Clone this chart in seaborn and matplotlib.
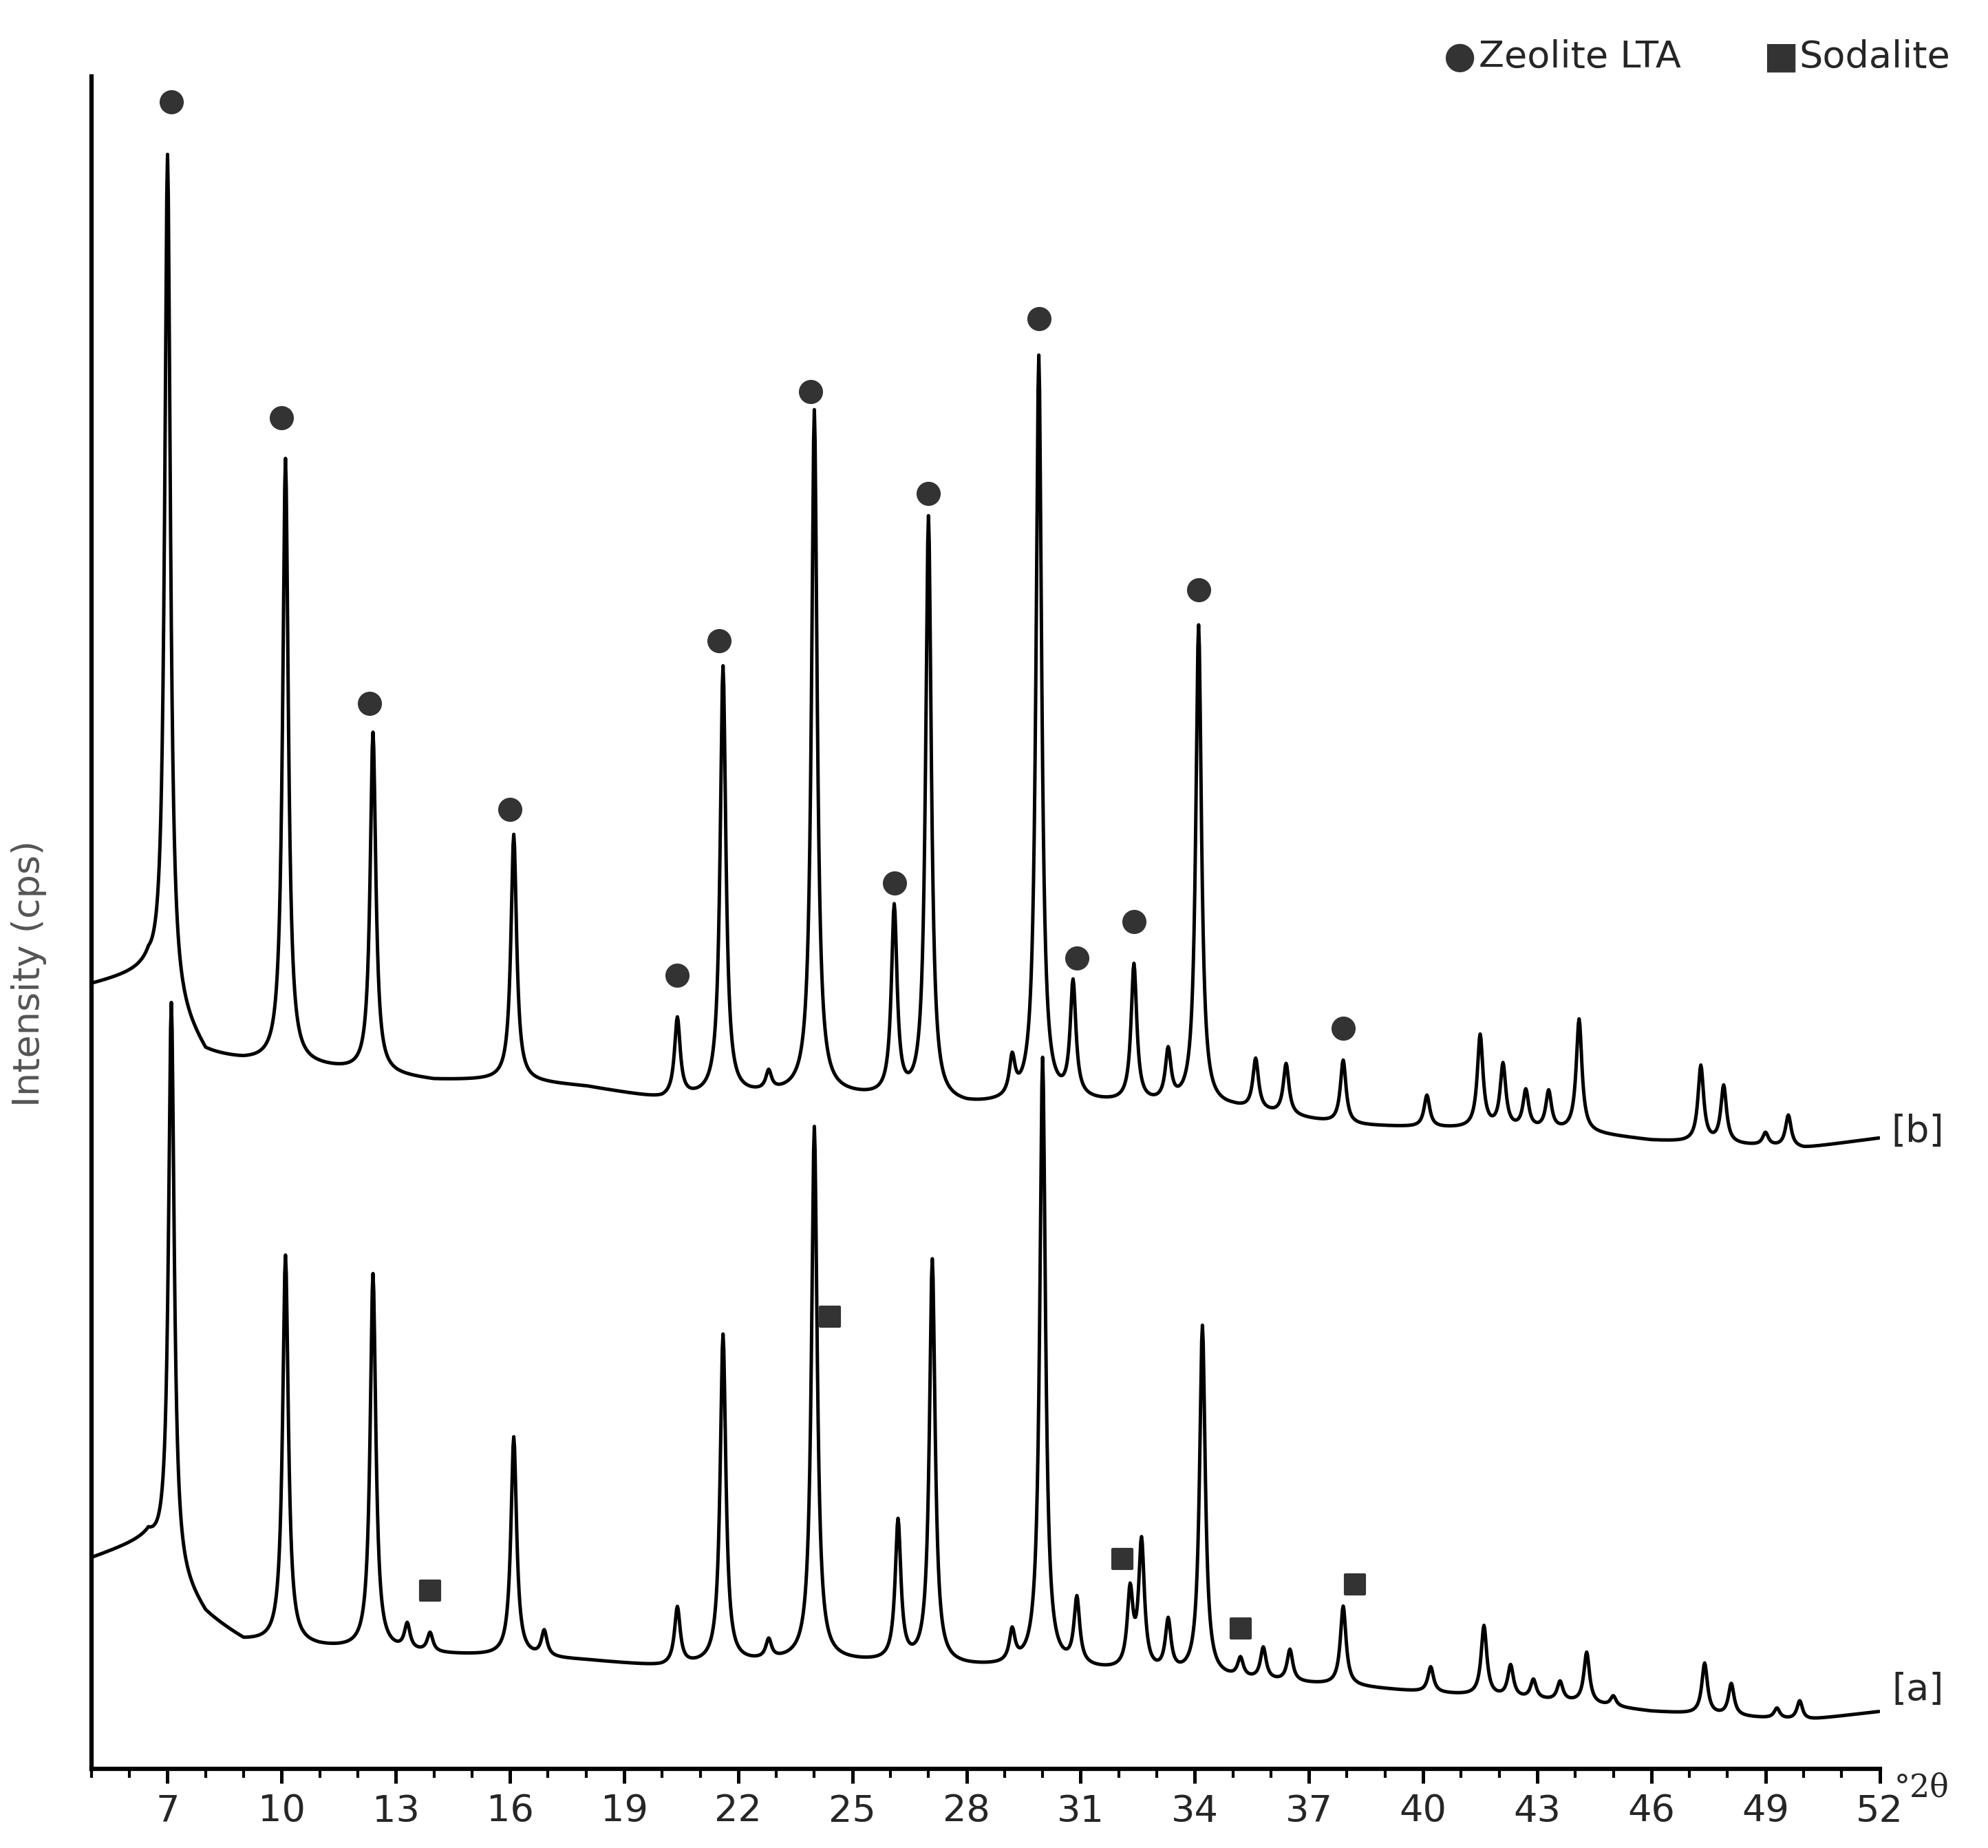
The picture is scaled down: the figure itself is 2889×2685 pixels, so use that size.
"""
XRD patterns of zeolite LTA samples [a] and [b], redrawn with seaborn.
"""

import numpy as np
import pandas as pd
import matplotlib.pyplot as plt
import seaborn as sns

sns.set_theme(style="white")
plt.rcParams['font.family'] = ['DejaVu Sans']

# peaks: position (deg 2theta), height above baseline
peaks_b_pos = [7.0, 10.1, 12.4, 16.1, 20.4, 21.6, 22.8, 24.0, 26.1, 27.0, 29.2, 29.9, 30.8,
               32.4, 33.3, 34.1, 35.6, 36.4, 37.9, 40.1, 41.5, 42.1, 42.7, 43.3, 44.1,
               47.3, 47.9, 49.0, 49.6]
peaks_b_h = [663, 475, 267, 193, 62, 337, 15, 535, 148, 458, 30, 585, 90,
             108, 40, 377, 40, 40, 50, 25, 73, 50, 30, 30, 88,
             60, 45, 10, 25]
peaks_a_pos = [7.1, 10.1, 12.4, 13.3, 13.9, 16.1, 16.9, 20.4, 21.6, 22.8, 24.0, 26.2, 27.1,
               29.2, 30.0, 30.9, 32.3, 32.6, 33.3, 34.2, 35.2, 35.8, 36.5, 37.9, 40.2,
               41.6, 42.3, 42.9, 43.6, 44.3, 45.0, 47.4, 48.1, 49.3, 49.9]
peaks_a_h = [445, 305, 295, 20, 15, 172, 20, 45, 258, 15, 418, 110, 317,
             25, 478, 52, 60, 100, 40, 275, 15, 25, 25, 62, 20,
             55, 25, 15, 15, 40, 8, 40, 25, 8, 15]

# baselines (background) read at a few angles
base_x = [5, 6.5, 8, 9, 11, 14, 16, 18, 20, 24, 28, 31, 35, 38, 40, 44, 46, 50, 52]
base_b = [615, 625, 560, 555, 550, 540, 540, 535, 525, 530, 520, 523, 518, 505, 503, 500, 493, 487, 495]
base_a = [165, 180, 120, 100, 95, 90, 88, 85, 80, 85, 80, 78, 70, 65, 60, 52, 45, 38, 45]

# phase markers: (angle, height)
lta_x = [7.1, 10.0, 12.3, 16.0, 20.4, 21.5, 23.9, 26.1, 27.0, 29.9, 30.9, 32.4, 34.1, 37.9]
lta_y = [1308, 1060, 836, 753, 623, 885, 1081, 695, 1001, 1138, 636, 665, 925, 581]
sod_x = [13.9, 24.4, 32.1, 35.2, 38.2]
sod_y = [140, 355, 165, 110, 145]

major_ticks = list(range(7, 53, 3))


def pattern(pos, heights, base):
    x = np.arange(5.0, 52.0, 0.02)
    y = np.interp(x, base_x, base)
    for p, h in zip(pos, heights):
        y = y + h / (1 + ((x - p) / 0.09) ** 2)
    return pd.DataFrame({'two_theta': x, 'intensity': y})


fig = plt.figure(figsize=(9.63, 8.95), dpi=300)
ax = fig.add_axes([0.046, 0.0428, 0.8995, 0.9158])

for pos, h, base in [(peaks_b_pos, peaks_b_h, base_b), (peaks_a_pos, peaks_a_h, base_a)]:
    sns.lineplot(data=pattern(pos, h, base), x='two_theta', y='intensity',
                 ax=ax, color='black', linewidth=1.2)

ax.scatter(lta_x, lta_y, marker='o', s=55, color='#333333', zorder=3)
ax.scatter(sod_x, sod_y, marker='s', s=45, color='#333333', zorder=3)

ax.set_xlim(5, 52)
ax.set_ylim(0, 1328)
ax.set_xticks(major_ticks)
ax.set_xticks(range(5, 53), minor=True)
ax.set_yticks([])
ax.tick_params(axis='x', which='major', direction='out', length=5, width=1.2,
               labelsize=13, bottom=True, color='black')
ax.tick_params(axis='x', which='minor', direction='out', length=3, width=1.0,
               bottom=True, color='black')
ax.set_xlabel('')
ax.set_ylabel('Intensity (cps)', fontsize=13, color='#555555', labelpad=4)
ax.yaxis.set_label_coords(-0.025, 0.47)
for side in ['top', 'right']:
    ax.spines[side].set_visible(False)
for side in ['left', 'bottom']:
    ax.spines[side].set_color('black')
    ax.spines[side].set_linewidth(1.5)

ax.text(53.0, 500, '[b]', fontsize=13, ha='center', va='center')
ax.text(53.0, 62, '[a]', fontsize=13, ha='center', va='center')
ax.text(53.1, -15, '°2θ', fontsize=11, ha='center', va='center', family='DejaVu Serif')

# legend above the axes
fig.text(0.726, 0.969, '●', fontsize=13, color='#333333', ha='left', va='center')
fig.text(0.744, 0.969, 'Zeolite LTA', fontsize=13, ha='left', va='center')
fig.text(0.887, 0.969, '■', fontsize=13, color='#333333', ha='left', va='center')
fig.text(0.905, 0.969, 'Sodalite', fontsize=13, ha='left', va='center')

fig.savefig('out.png', dpi=300)
